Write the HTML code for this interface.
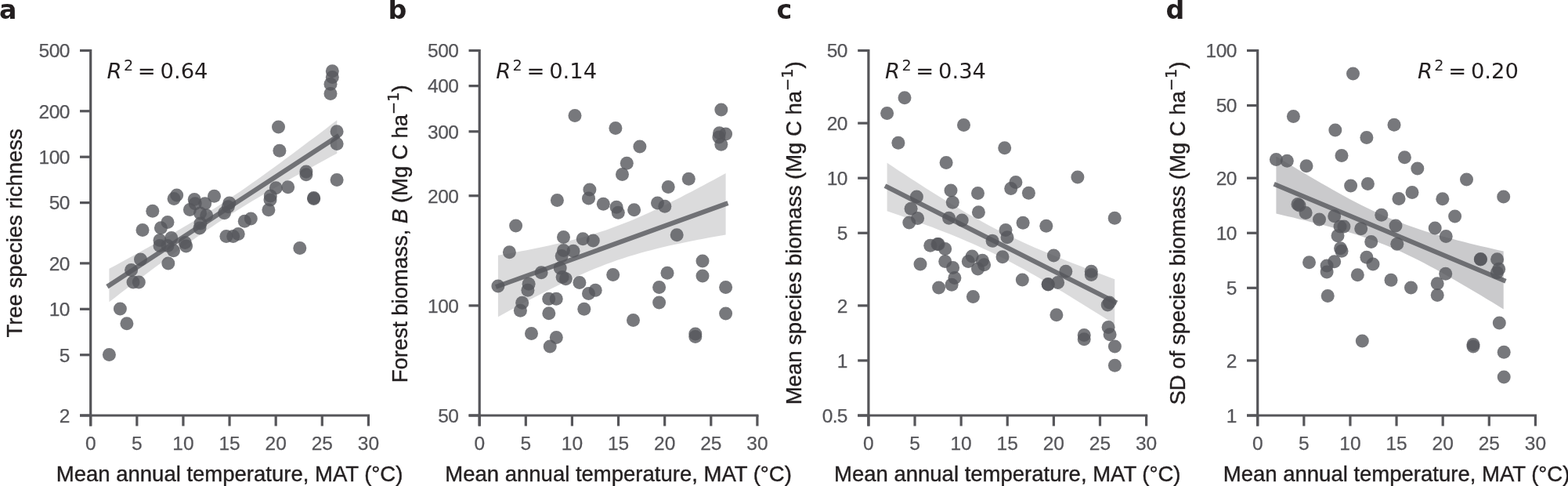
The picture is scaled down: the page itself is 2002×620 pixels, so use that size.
<!DOCTYPE html><html><head><meta charset="utf-8"><title>Figure</title><style>html,body{margin:0;padding:0;background:#fff;overflow:hidden;}svg{display:block;}</style></head><body>
<svg width="2002" height="620" viewBox="0 0 2002 620">
<rect width="2002" height="620" fill="#fff"/>
<path d="M139.4 342.8 L146.7 338.9 L153.9 334.9 L161.2 330.9 L168.5 327.0 L175.8 323.0 L183.0 318.9 L190.3 314.9 L197.6 310.9 L204.9 306.8 L212.1 302.7 L219.4 298.5 L226.7 294.3 L233.9 290.1 L241.2 285.8 L248.5 281.5 L255.8 277.1 L263.0 272.6 L270.3 268.1 L277.6 263.4 L284.9 258.8 L292.1 254.0 L299.4 249.1 L306.7 244.2 L313.9 239.2 L321.2 234.1 L328.5 229.0 L335.8 223.8 L343.0 218.5 L350.3 213.2 L357.6 207.9 L364.8 202.5 L372.1 197.2 L379.4 191.7 L386.7 186.3 L393.9 180.8 L401.2 175.4 L408.5 169.9 L415.8 164.4 L423.0 158.8 L430.3 153.3 L430.3 195.7 L423.0 199.6 L415.8 203.6 L408.5 207.6 L401.2 211.5 L393.9 215.5 L386.7 219.6 L379.4 223.6 L372.1 227.6 L364.8 231.7 L357.6 235.8 L350.3 240.0 L343.0 244.2 L335.8 248.4 L328.5 252.7 L321.2 257.0 L313.9 261.4 L306.7 265.9 L299.4 270.4 L292.1 275.1 L284.9 279.8 L277.6 284.5 L270.3 289.4 L263.0 294.3 L255.8 299.3 L248.5 304.4 L241.2 309.5 L233.9 314.7 L226.7 320.0 L219.4 325.3 L212.1 330.6 L204.9 336.0 L197.6 341.3 L190.3 346.8 L183.0 352.2 L175.8 357.7 L168.5 363.1 L161.2 368.6 L153.9 374.1 L146.7 379.7 L139.4 385.2 Z" fill="#55565b" fill-opacity="0.21"/>
<g fill="#55565b" fill-opacity="0.8"><circle cx="424.3" cy="90.7" r="8.5"/><circle cx="424.3" cy="98.6" r="8.5"/><circle cx="422.0" cy="107.3" r="8.5"/><circle cx="422.0" cy="119.5" r="8.5"/><circle cx="355.5" cy="161.9" r="8.5"/><circle cx="356.9" cy="192.3" r="8.5"/><circle cx="430.1" cy="167.7" r="8.5"/><circle cx="430.1" cy="183.6" r="8.5"/><circle cx="390.9" cy="219.0" r="8.5"/><circle cx="390.9" cy="222.8" r="8.5"/><circle cx="430.1" cy="229.5" r="8.5"/><circle cx="352.3" cy="239.7" r="8.5"/><circle cx="367.7" cy="238.8" r="8.5"/><circle cx="345.3" cy="250.0" r="8.5"/><circle cx="345.0" cy="255.0" r="8.5"/><circle cx="342.9" cy="267.7" r="8.5"/><circle cx="400.6" cy="252.4" r="8.5"/><circle cx="400.6" cy="253.5" r="8.5"/><circle cx="382.8" cy="316.6" r="8.5"/><circle cx="320.3" cy="279.0" r="8.5"/><circle cx="312.3" cy="282.3" r="8.5"/><circle cx="304.2" cy="298.4" r="8.5"/><circle cx="297.7" cy="301.6" r="8.5"/><circle cx="288.9" cy="301.6" r="8.5"/><circle cx="292.9" cy="258.9" r="8.5"/><circle cx="291.3" cy="263.7" r="8.5"/><circle cx="286.5" cy="271.8" r="8.5"/><circle cx="273.5" cy="250.2" r="8.5"/><circle cx="261.7" cy="259.7" r="8.5"/><circle cx="263.7" cy="274.8" r="8.5"/><circle cx="255.5" cy="272.0" r="8.5"/><circle cx="256.0" cy="285.0" r="8.5"/><circle cx="255.0" cy="291.0" r="8.5"/><circle cx="248.2" cy="254.4" r="8.5"/><circle cx="249.2" cy="259.7" r="8.5"/><circle cx="242.4" cy="267.4" r="8.5"/><circle cx="225.7" cy="248.9" r="8.5"/><circle cx="222.1" cy="253.5" r="8.5"/><circle cx="194.8" cy="269.2" r="8.5"/><circle cx="214.0" cy="283.6" r="8.5"/><circle cx="205.4" cy="290.8" r="8.5"/><circle cx="182.0" cy="293.4" r="8.5"/><circle cx="204.0" cy="306.5" r="8.5"/><circle cx="204.0" cy="313.6" r="8.5"/><circle cx="218.8" cy="303.5" r="8.5"/><circle cx="214.0" cy="313.5" r="8.5"/><circle cx="221.5" cy="319.8" r="8.5"/><circle cx="236.3" cy="309.5" r="8.5"/><circle cx="237.6" cy="314.0" r="8.5"/><circle cx="214.8" cy="336.0" r="8.5"/><circle cx="179.5" cy="331.0" r="8.5"/><circle cx="167.6" cy="344.4" r="8.5"/><circle cx="170.0" cy="360.0" r="8.5"/><circle cx="177.3" cy="360.0" r="8.5"/><circle cx="153.4" cy="394.0" r="8.5"/><circle cx="161.9" cy="412.7" r="8.5"/><circle cx="139.4" cy="452.6" r="8.5"/></g>
<path d="M139.4 364.0 L430.3 174.5" stroke="#55565b" stroke-opacity="0.8" stroke-width="6.0" stroke-linecap="square" fill="none"/>
<g stroke="#555559" stroke-width="3.2" fill="none" stroke-linecap="butt"><path d="M115.70 62.90 V543.50 M102.00 530.00 H472.00" /><path d="M115.70 530.00 V543.50"/><path d="M174.82 530.00 V543.50"/><path d="M233.93 530.00 V543.50"/><path d="M293.05 530.00 V543.50"/><path d="M352.17 530.00 V543.50"/><path d="M411.28 530.00 V543.50"/><path d="M470.40 530.00 V543.50"/><path d="M102.00 530.00 H115.70"/><path d="M102.00 452.75 H115.70"/><path d="M102.00 394.31 H115.70"/><path d="M102.00 335.88 H115.70"/><path d="M102.00 258.62 H115.70"/><path d="M102.00 200.19 H115.70"/><path d="M102.00 141.75 H115.70"/><path d="M102.00 64.50 H115.70"/></g>
<g font-family="'Liberation Sans', Arial, Helvetica, sans-serif" font-size="24.5" fill="#555559" stroke="#555559" stroke-width="0.25"><text x="115.70" y="574.1" text-anchor="middle">0</text><text x="174.82" y="574.1" text-anchor="middle">5</text><text x="233.93" y="574.1" text-anchor="middle">10</text><text x="293.05" y="574.1" text-anchor="middle">15</text><text x="352.17" y="574.1" text-anchor="middle">20</text><text x="411.28" y="574.1" text-anchor="middle">25</text><text x="470.40" y="574.1" text-anchor="middle">30</text><text x="88.70" y="538.80" text-anchor="end" letter-spacing="-0.6">2</text><text x="88.70" y="461.55" text-anchor="end" letter-spacing="-0.6">5</text><text x="88.70" y="403.11" text-anchor="end" letter-spacing="-0.6">10</text><text x="88.70" y="344.68" text-anchor="end" letter-spacing="-0.6">20</text><text x="88.70" y="267.42" text-anchor="end" letter-spacing="-0.6">50</text><text x="88.70" y="208.99" text-anchor="end" letter-spacing="-0.6">100</text><text x="88.70" y="150.55" text-anchor="end" letter-spacing="-0.6">200</text><text x="88.70" y="73.30" text-anchor="end" letter-spacing="-0.6">500</text></g>
<text x="293.05" y="614.3" text-anchor="middle" font-family="'Liberation Sans', Arial, Helvetica, sans-serif" font-size="27.5" fill="#231f20" stroke="#231f20" stroke-width="0.4">Mean annual temperature, MAT (°C)</text>
<text transform="translate(28.4,297.4) rotate(-90)" text-anchor="middle" font-family="'Liberation Sans', Arial, Helvetica, sans-serif" font-size="27.5" fill="#231f20" stroke="#231f20" stroke-width="0.4">Tree species richness</text>
<text x="136.6" y="100" font-family="'DejaVu Sans', sans-serif" font-size="27.4" fill="#231f20"><tspan font-style="italic">R</tspan><tspan font-size="19.2" dx="2.3" dy="-10.5">2</tspan><tspan dx="-3" dy="10.5"> =</tspan><tspan dx="-3"> 0.64</tspan></text>
<text x="-1.0" y="24.1" font-family="'DejaVu Sans', sans-serif" font-weight="bold" font-size="33.3" fill="#231f20">a</text>
<path d="M635.9 325.8 L643.2 324.5 L650.4 323.2 L657.7 321.9 L665.0 320.5 L672.2 319.2 L679.5 317.7 L686.8 316.3 L694.0 314.8 L701.3 313.2 L708.6 311.6 L715.8 309.9 L723.1 308.2 L730.4 306.3 L737.6 304.4 L744.9 302.4 L752.2 300.3 L759.4 298.1 L766.7 295.8 L774.0 293.4 L781.2 290.8 L788.5 288.1 L795.8 285.3 L803.1 282.4 L810.3 279.4 L817.6 276.2 L824.9 273.0 L832.1 269.7 L839.4 266.2 L846.7 262.7 L853.9 259.2 L861.2 255.6 L868.5 251.9 L875.7 248.1 L883.0 244.4 L890.3 240.6 L897.5 236.7 L904.8 232.8 L912.1 228.9 L919.3 225.0 L926.6 221.0 L926.6 299.4 L919.3 300.7 L912.1 302.0 L904.8 303.3 L897.5 304.7 L890.3 306.0 L883.0 307.5 L875.7 308.9 L868.5 310.4 L861.2 312.0 L853.9 313.6 L846.7 315.3 L839.4 317.0 L832.1 318.9 L824.9 320.8 L817.6 322.8 L810.3 324.9 L803.1 327.1 L795.8 329.4 L788.5 331.8 L781.2 334.4 L774.0 337.1 L766.7 339.9 L759.4 342.8 L752.2 345.8 L744.9 349.0 L737.6 352.2 L730.4 355.5 L723.1 359.0 L715.8 362.5 L708.6 366.0 L701.3 369.6 L694.0 373.3 L686.8 377.1 L679.5 380.8 L672.2 384.6 L665.0 388.5 L657.7 392.4 L650.4 396.3 L643.2 400.2 L635.9 404.2 Z" fill="#55565b" fill-opacity="0.21"/>
<g fill="#55565b" fill-opacity="0.8"><circle cx="734.0" cy="147.6" r="8.5"/><circle cx="785.9" cy="163.5" r="8.5"/><circle cx="920.8" cy="140.1" r="8.5"/><circle cx="918.5" cy="169.7" r="8.5"/><circle cx="926.6" cy="171.1" r="8.5"/><circle cx="917.9" cy="174.9" r="8.5"/><circle cx="920.8" cy="184.2" r="8.5"/><circle cx="816.9" cy="187.1" r="8.5"/><circle cx="800.3" cy="208.3" r="8.5"/><circle cx="794.5" cy="222.6" r="8.5"/><circle cx="879.3" cy="228.3" r="8.5"/><circle cx="853.2" cy="238.5" r="8.5"/><circle cx="752.9" cy="242.0" r="8.5"/><circle cx="751.5" cy="253.0" r="8.5"/><circle cx="711.4" cy="255.6" r="8.5"/><circle cx="770.3" cy="260.2" r="8.5"/><circle cx="839.5" cy="259.1" r="8.5"/><circle cx="848.8" cy="263.2" r="8.5"/><circle cx="809.6" cy="267.8" r="8.5"/><circle cx="787.1" cy="264.2" r="8.5"/><circle cx="789.3" cy="271.2" r="8.5"/><circle cx="658.6" cy="287.9" r="8.5"/><circle cx="719.5" cy="302.5" r="8.5"/><circle cx="744.2" cy="304.8" r="8.5"/><circle cx="757.3" cy="306.9" r="8.5"/><circle cx="650.4" cy="321.7" r="8.5"/><circle cx="719.5" cy="319.4" r="8.5"/><circle cx="732.0" cy="320.2" r="8.5"/><circle cx="717.2" cy="326.6" r="8.5"/><circle cx="715.2" cy="342.0" r="8.5"/><circle cx="691.1" cy="347.8" r="8.5"/><circle cx="675.1" cy="362.3" r="8.5"/><circle cx="673.9" cy="370.2" r="8.5"/><circle cx="718.1" cy="353.6" r="8.5"/><circle cx="722.4" cy="355.7" r="8.5"/><circle cx="739.9" cy="360.6" r="8.5"/><circle cx="782.7" cy="350.4" r="8.5"/><circle cx="760.2" cy="370.2" r="8.5"/><circle cx="751.5" cy="374.5" r="8.5"/><circle cx="666.7" cy="386.2" r="8.5"/><circle cx="664.4" cy="396.2" r="8.5"/><circle cx="700.7" cy="381.2" r="8.5"/><circle cx="710.2" cy="381.2" r="8.5"/><circle cx="700.8" cy="399.8" r="8.5"/><circle cx="745.8" cy="394.2" r="8.5"/><circle cx="678.5" cy="425.4" r="8.5"/><circle cx="710.3" cy="430.4" r="8.5"/><circle cx="702.2" cy="441.9" r="8.5"/><circle cx="635.9" cy="364.9" r="8.5"/><circle cx="864.2" cy="299.7" r="8.5"/><circle cx="852.0" cy="348.2" r="8.5"/><circle cx="897.0" cy="333.1" r="8.5"/><circle cx="897.0" cy="352.0" r="8.5"/><circle cx="841.6" cy="366.5" r="8.5"/><circle cx="841.6" cy="385.9" r="8.5"/><circle cx="926.6" cy="366.5" r="8.5"/><circle cx="926.6" cy="400.0" r="8.5"/><circle cx="808.5" cy="408.5" r="8.5"/><circle cx="887.8" cy="425.9" r="8.5"/><circle cx="887.8" cy="429.5" r="8.5"/></g>
<path d="M635.9 365.0 L926.6 260.2" stroke="#55565b" stroke-opacity="0.8" stroke-width="6.0" stroke-linecap="square" fill="none"/>
<g stroke="#555559" stroke-width="3.2" fill="none" stroke-linecap="butt"><path d="M612.20 62.90 V543.50 M598.50 530.00 H968.50" /><path d="M612.20 530.00 V543.50"/><path d="M671.32 530.00 V543.50"/><path d="M730.43 530.00 V543.50"/><path d="M789.55 530.00 V543.50"/><path d="M848.67 530.00 V543.50"/><path d="M907.78 530.00 V543.50"/><path d="M966.90 530.00 V543.50"/><path d="M598.50 530.00 H612.20"/><path d="M598.50 389.87 H612.20"/><path d="M598.50 249.74 H612.20"/><path d="M598.50 167.77 H612.20"/><path d="M598.50 109.61 H612.20"/><path d="M598.50 64.50 H612.20"/></g>
<g font-family="'Liberation Sans', Arial, Helvetica, sans-serif" font-size="24.5" fill="#555559" stroke="#555559" stroke-width="0.25"><text x="612.20" y="574.1" text-anchor="middle">0</text><text x="671.32" y="574.1" text-anchor="middle">5</text><text x="730.43" y="574.1" text-anchor="middle">10</text><text x="789.55" y="574.1" text-anchor="middle">15</text><text x="848.67" y="574.1" text-anchor="middle">20</text><text x="907.78" y="574.1" text-anchor="middle">25</text><text x="966.90" y="574.1" text-anchor="middle">30</text><text x="585.20" y="538.80" text-anchor="end" letter-spacing="-0.6">50</text><text x="585.20" y="398.67" text-anchor="end" letter-spacing="-0.6">100</text><text x="585.20" y="258.54" text-anchor="end" letter-spacing="-0.6">200</text><text x="585.20" y="176.57" text-anchor="end" letter-spacing="-0.6">300</text><text x="585.20" y="118.41" text-anchor="end" letter-spacing="-0.6">400</text><text x="585.20" y="73.30" text-anchor="end" letter-spacing="-0.6">500</text></g>
<text x="789.55" y="614.3" text-anchor="middle" font-family="'Liberation Sans', Arial, Helvetica, sans-serif" font-size="27.5" fill="#231f20" stroke="#231f20" stroke-width="0.4">Mean annual temperature, MAT (°C)</text>
<text transform="translate(520.0,298.3) rotate(-90)" text-anchor="middle" font-family="'Liberation Sans', Arial, Helvetica, sans-serif" font-size="27.5" fill="#231f20" stroke="#231f20" stroke-width="0.4">Forest biomass, <tspan font-style="italic">B</tspan> (Mg C ha<tspan font-family="'DejaVu Sans', sans-serif" font-size="19.3" dy="-11">−1</tspan><tspan dy="11">)</tspan></text>
<text x="633.2" y="100" font-family="'DejaVu Sans', sans-serif" font-size="27.4" fill="#231f20"><tspan font-style="italic">R</tspan><tspan font-size="19.2" dx="2.3" dy="-10.5">2</tspan><tspan dx="-3" dy="10.5"> =</tspan><tspan dx="-3"> 0.14</tspan></text>
<text x="495.5" y="24.1" font-family="'DejaVu Sans', sans-serif" font-weight="bold" font-size="33.3" fill="#231f20">b</text>
<path d="M1132.6 207.8 L1139.9 212.6 L1147.1 217.4 L1154.4 222.1 L1161.7 226.9 L1168.9 231.6 L1176.2 236.2 L1183.5 240.9 L1190.7 245.5 L1198.0 250.0 L1205.2 254.5 L1212.5 258.9 L1219.8 263.3 L1227.0 267.6 L1234.3 271.9 L1241.6 276.1 L1248.8 280.1 L1256.1 284.1 L1263.4 288.0 L1270.6 291.8 L1277.9 295.6 L1285.2 299.2 L1292.4 302.7 L1299.7 306.1 L1307.0 309.5 L1314.2 312.7 L1321.5 315.9 L1328.8 319.0 L1336.0 322.1 L1343.3 325.1 L1350.5 328.1 L1357.8 331.0 L1365.1 333.9 L1372.3 336.8 L1379.6 339.6 L1386.9 342.4 L1394.1 345.2 L1401.4 348.0 L1408.7 350.7 L1415.9 353.5 L1423.2 356.2 L1423.2 413.8 L1415.9 409.2 L1408.7 404.6 L1401.4 400.1 L1394.1 395.5 L1386.9 391.0 L1379.6 386.4 L1372.3 381.9 L1365.1 377.5 L1357.8 373.0 L1350.5 368.7 L1343.3 364.3 L1336.0 360.0 L1328.8 355.7 L1321.5 351.5 L1314.2 347.4 L1307.0 343.3 L1299.7 339.4 L1292.4 335.5 L1285.2 331.7 L1277.9 327.9 L1270.6 324.3 L1263.4 320.8 L1256.1 317.4 L1248.8 314.1 L1241.6 310.8 L1234.3 307.7 L1227.0 304.6 L1219.8 301.6 L1212.5 298.6 L1205.2 295.7 L1198.0 292.9 L1190.7 290.1 L1183.5 287.4 L1176.2 284.7 L1168.9 282.0 L1161.7 279.4 L1154.4 276.8 L1147.1 274.3 L1139.9 271.7 L1132.6 269.2 Z" fill="#55565b" fill-opacity="0.21"/>
<g fill="#55565b" fill-opacity="0.8"><circle cx="1155.0" cy="124.7" r="8.5"/><circle cx="1132.6" cy="144.4" r="8.5"/><circle cx="1146.9" cy="182.2" r="8.5"/><circle cx="1230.5" cy="159.5" r="8.5"/><circle cx="1282.7" cy="188.8" r="8.5"/><circle cx="1208.1" cy="207.4" r="8.5"/><circle cx="1290.7" cy="240.4" r="8.5"/><circle cx="1296.9" cy="232.6" r="8.5"/><circle cx="1313.4" cy="246.2" r="8.5"/><circle cx="1375.9" cy="225.9" r="8.5"/><circle cx="1214.0" cy="242.9" r="8.5"/><circle cx="1248.5" cy="246.6" r="8.5"/><circle cx="1170.4" cy="251.0" r="8.5"/><circle cx="1216.3" cy="258.2" r="8.5"/><circle cx="1163.1" cy="266.3" r="8.5"/><circle cx="1249.4" cy="270.8" r="8.5"/><circle cx="1171.6" cy="278.5" r="8.5"/><circle cx="1160.8" cy="284.0" r="8.5"/><circle cx="1211.6" cy="278.2" r="8.5"/><circle cx="1228.2" cy="281.1" r="8.5"/><circle cx="1284.0" cy="293.4" r="8.5"/><circle cx="1286.0" cy="302.8" r="8.5"/><circle cx="1267.1" cy="307.2" r="8.5"/><circle cx="1280.0" cy="327.8" r="8.5"/><circle cx="1187.8" cy="313.3" r="8.5"/><circle cx="1197.0" cy="311.5" r="8.5"/><circle cx="1198.2" cy="311.6" r="8.5"/><circle cx="1206.7" cy="317.4" r="8.5"/><circle cx="1175.0" cy="337.1" r="8.5"/><circle cx="1206.7" cy="333.6" r="8.5"/><circle cx="1216.6" cy="341.5" r="8.5"/><circle cx="1218.9" cy="354.5" r="8.5"/><circle cx="1215.1" cy="363.2" r="8.5"/><circle cx="1198.6" cy="367.0" r="8.5"/><circle cx="1241.2" cy="327.0" r="8.5"/><circle cx="1236.3" cy="333.6" r="8.5"/><circle cx="1254.3" cy="332.2" r="8.5"/><circle cx="1256.6" cy="337.7" r="8.5"/><circle cx="1248.5" cy="342.9" r="8.5"/><circle cx="1242.4" cy="378.6" r="8.5"/><circle cx="1306.1" cy="284.2" r="8.5"/><circle cx="1335.8" cy="288.2" r="8.5"/><circle cx="1423.2" cy="278.2" r="8.5"/><circle cx="1345.4" cy="325.9" r="8.5"/><circle cx="1360.8" cy="346.2" r="8.5"/><circle cx="1350.6" cy="360.5" r="8.5"/><circle cx="1338.1" cy="362.5" r="8.5"/><circle cx="1338.3" cy="363.0" r="8.5"/><circle cx="1305.3" cy="357.0" r="8.5"/><circle cx="1393.3" cy="346.2" r="8.5"/><circle cx="1393.3" cy="350.6" r="8.5"/><circle cx="1416.5" cy="386.0" r="8.5"/><circle cx="1414.2" cy="389.0" r="8.5"/><circle cx="1348.9" cy="401.8" r="8.5"/><circle cx="1384.2" cy="427.6" r="8.5"/><circle cx="1384.2" cy="432.8" r="8.5"/><circle cx="1415.1" cy="417.5" r="8.5"/><circle cx="1417.1" cy="426.7" r="8.5"/><circle cx="1423.4" cy="442.0" r="8.5"/><circle cx="1423.4" cy="466.2" r="8.5"/></g>
<path d="M1132.6 238.5 L1423.2 385.0" stroke="#55565b" stroke-opacity="0.8" stroke-width="6.0" stroke-linecap="square" fill="none"/>
<g stroke="#555559" stroke-width="3.2" fill="none" stroke-linecap="butt"><path d="M1108.90 62.90 V543.50 M1095.20 530.00 H1465.20" /><path d="M1108.90 530.00 V543.50"/><path d="M1168.02 530.00 V543.50"/><path d="M1227.13 530.00 V543.50"/><path d="M1286.25 530.00 V543.50"/><path d="M1345.37 530.00 V543.50"/><path d="M1404.48 530.00 V543.50"/><path d="M1463.60 530.00 V543.50"/><path d="M1095.20 530.00 H1108.90"/><path d="M1095.20 459.94 H1108.90"/><path d="M1095.20 389.87 H1108.90"/><path d="M1095.20 297.25 H1108.90"/><path d="M1095.20 227.19 H1108.90"/><path d="M1095.20 157.12 H1108.90"/><path d="M1095.20 64.50 H1108.90"/></g>
<g font-family="'Liberation Sans', Arial, Helvetica, sans-serif" font-size="24.5" fill="#555559" stroke="#555559" stroke-width="0.25"><text x="1108.90" y="574.1" text-anchor="middle">0</text><text x="1168.02" y="574.1" text-anchor="middle">5</text><text x="1227.13" y="574.1" text-anchor="middle">10</text><text x="1286.25" y="574.1" text-anchor="middle">15</text><text x="1345.37" y="574.1" text-anchor="middle">20</text><text x="1404.48" y="574.1" text-anchor="middle">25</text><text x="1463.60" y="574.1" text-anchor="middle">30</text><text x="1081.90" y="538.80" text-anchor="end" letter-spacing="-0.6">0.5</text><text x="1081.90" y="468.74" text-anchor="end" letter-spacing="-0.6">1</text><text x="1081.90" y="398.67" text-anchor="end" letter-spacing="-0.6">2</text><text x="1081.90" y="306.05" text-anchor="end" letter-spacing="-0.6">5</text><text x="1081.90" y="235.99" text-anchor="end" letter-spacing="-0.6">10</text><text x="1081.90" y="165.92" text-anchor="end" letter-spacing="-0.6">20</text><text x="1081.90" y="73.30" text-anchor="end" letter-spacing="-0.6">50</text></g>
<text x="1286.25" y="614.3" text-anchor="middle" font-family="'Liberation Sans', Arial, Helvetica, sans-serif" font-size="27.5" fill="#231f20" stroke="#231f20" stroke-width="0.4">Mean annual temperature, MAT (°C)</text>
<text transform="translate(1023.3,297.3) rotate(-90)" text-anchor="middle" font-family="'Liberation Sans', Arial, Helvetica, sans-serif" font-size="27.5" fill="#231f20" stroke="#231f20" stroke-width="0.4">Mean species biomass (Mg C ha<tspan font-family="'DejaVu Sans', sans-serif" font-size="19.3" dy="-11">−1</tspan><tspan dy="11">)</tspan></text>
<text x="1130.1000000000001" y="100" font-family="'DejaVu Sans', sans-serif" font-size="27.4" fill="#231f20"><tspan font-style="italic">R</tspan><tspan font-size="19.2" dx="2.3" dy="-10.5">2</tspan><tspan dx="-3" dy="10.5"> =</tspan><tspan dx="-3"> 0.34</tspan></text>
<text x="991.5" y="24.1" font-family="'DejaVu Sans', sans-serif" font-weight="bold" font-size="33.3" fill="#231f20">c</text>
<path d="M1629.4 199.5 L1636.7 203.9 L1643.9 208.3 L1651.2 212.6 L1658.4 216.9 L1665.7 221.2 L1672.9 225.5 L1680.2 229.8 L1687.5 234.0 L1694.7 238.1 L1702.0 242.2 L1709.2 246.3 L1716.5 250.3 L1723.7 254.2 L1731.0 258.0 L1738.3 261.7 L1745.5 265.3 L1752.8 268.8 L1760.0 272.2 L1767.3 275.4 L1774.6 278.6 L1781.8 281.5 L1789.1 284.3 L1796.3 287.0 L1803.6 289.6 L1810.8 292.1 L1818.1 294.4 L1825.4 296.7 L1832.6 298.8 L1839.9 300.9 L1847.1 302.9 L1854.4 304.8 L1861.6 306.7 L1868.9 308.6 L1876.2 310.4 L1883.4 312.2 L1890.7 313.9 L1897.9 315.6 L1905.2 317.3 L1912.4 319.0 L1919.7 320.6 L1919.7 394.4 L1912.4 390.0 L1905.2 385.6 L1897.9 381.2 L1890.7 376.8 L1883.4 372.5 L1876.2 368.2 L1868.9 363.9 L1861.6 359.7 L1854.4 355.5 L1847.1 351.4 L1839.9 347.3 L1832.6 343.3 L1825.4 339.4 L1818.1 335.5 L1810.8 331.8 L1803.6 328.2 L1796.3 324.7 L1789.1 321.3 L1781.8 318.1 L1774.6 314.9 L1767.3 312.0 L1760.0 309.2 L1752.8 306.5 L1745.5 303.9 L1738.3 301.4 L1731.0 299.1 L1723.7 296.8 L1716.5 294.6 L1709.2 292.6 L1702.0 290.5 L1694.7 288.6 L1687.5 286.6 L1680.2 284.8 L1672.9 282.9 L1665.7 281.1 L1658.4 279.4 L1651.2 277.6 L1643.9 275.9 L1636.7 274.2 L1629.4 272.5 Z" fill="#55565b" fill-opacity="0.315"/>
<g fill="#55565b" fill-opacity="0.8"><circle cx="1727.5" cy="94.1" r="8.5"/><circle cx="1651.4" cy="148.4" r="8.5"/><circle cx="1704.8" cy="166.1" r="8.5"/><circle cx="1744.9" cy="175.4" r="8.5"/><circle cx="1780.0" cy="159.2" r="8.5"/><circle cx="1629.4" cy="203.6" r="8.5"/><circle cx="1643.3" cy="205.3" r="8.5"/><circle cx="1668.0" cy="211.7" r="8.5"/><circle cx="1713.0" cy="198.6" r="8.5"/><circle cx="1793.4" cy="200.7" r="8.5"/><circle cx="1809.8" cy="215.1" r="8.5"/><circle cx="1872.5" cy="229.1" r="8.5"/><circle cx="1803.0" cy="245.5" r="8.5"/><circle cx="1786.0" cy="253.6" r="8.5"/><circle cx="1841.8" cy="253.8" r="8.5"/><circle cx="1919.7" cy="250.9" r="8.5"/><circle cx="1857.6" cy="275.9" r="8.5"/><circle cx="1832.2" cy="291.1" r="8.5"/><circle cx="1846.2" cy="301.5" r="8.5"/><circle cx="1782.0" cy="288.0" r="8.5"/><circle cx="1783.8" cy="311.3" r="8.5"/><circle cx="1890.4" cy="330.5" r="8.5"/><circle cx="1890.4" cy="331.1" r="8.5"/><circle cx="1911.6" cy="330.8" r="8.5"/><circle cx="1913.7" cy="343.3" r="8.5"/><circle cx="1911.3" cy="347.7" r="8.5"/><circle cx="1845.7" cy="349.2" r="8.5"/><circle cx="1835.2" cy="361.8" r="8.5"/><circle cx="1835.2" cy="376.4" r="8.5"/><circle cx="1801.5" cy="367.1" r="8.5"/><circle cx="1776.0" cy="357.3" r="8.5"/><circle cx="1914.3" cy="412.0" r="8.5"/><circle cx="1881.0" cy="439.4" r="8.5"/><circle cx="1881.0" cy="441.9" r="8.5"/><circle cx="1920.2" cy="449.2" r="8.5"/><circle cx="1920.2" cy="481.0" r="8.5"/><circle cx="1724.6" cy="236.9" r="8.5"/><circle cx="1746.4" cy="234.6" r="8.5"/><circle cx="1657.0" cy="260.5" r="8.5"/><circle cx="1659.0" cy="262.0" r="8.5"/><circle cx="1667.1" cy="271.4" r="8.5"/><circle cx="1684.5" cy="280.1" r="8.5"/><circle cx="1703.7" cy="275.7" r="8.5"/><circle cx="1711.0" cy="289.1" r="8.5"/><circle cx="1715.9" cy="289.1" r="8.5"/><circle cx="1737.7" cy="291.7" r="8.5"/><circle cx="1763.8" cy="274.3" r="8.5"/><circle cx="1708.0" cy="300.7" r="8.5"/><circle cx="1750.7" cy="308.6" r="8.5"/><circle cx="1711.5" cy="316.7" r="8.5"/><circle cx="1713.0" cy="320.2" r="8.5"/><circle cx="1671.5" cy="334.7" r="8.5"/><circle cx="1703.7" cy="333.8" r="8.5"/><circle cx="1694.1" cy="339.0" r="8.5"/><circle cx="1694.1" cy="346.9" r="8.5"/><circle cx="1744.9" cy="328.3" r="8.5"/><circle cx="1753.0" cy="337.0" r="8.5"/><circle cx="1733.3" cy="350.7" r="8.5"/><circle cx="1695.2" cy="377.5" r="8.5"/><circle cx="1739.3" cy="435.0" r="8.5"/></g>
<path d="M1629.4 236.0 L1919.7 357.5" stroke="#55565b" stroke-opacity="0.8" stroke-width="6.0" stroke-linecap="square" fill="none"/>
<g stroke="#555559" stroke-width="3.2" fill="none" stroke-linecap="butt"><path d="M1605.70 62.90 V543.50 M1592.00 530.00 H1962.00" /><path d="M1605.70 530.00 V543.50"/><path d="M1664.82 530.00 V543.50"/><path d="M1723.93 530.00 V543.50"/><path d="M1783.05 530.00 V543.50"/><path d="M1842.17 530.00 V543.50"/><path d="M1901.28 530.00 V543.50"/><path d="M1960.40 530.00 V543.50"/><path d="M1592.00 530.00 H1605.70"/><path d="M1592.00 459.94 H1605.70"/><path d="M1592.00 367.31 H1605.70"/><path d="M1592.00 297.25 H1605.70"/><path d="M1592.00 227.19 H1605.70"/><path d="M1592.00 134.56 H1605.70"/><path d="M1592.00 64.50 H1605.70"/></g>
<g font-family="'Liberation Sans', Arial, Helvetica, sans-serif" font-size="24.5" fill="#555559" stroke="#555559" stroke-width="0.25"><text x="1605.70" y="574.1" text-anchor="middle">0</text><text x="1664.82" y="574.1" text-anchor="middle">5</text><text x="1723.93" y="574.1" text-anchor="middle">10</text><text x="1783.05" y="574.1" text-anchor="middle">15</text><text x="1842.17" y="574.1" text-anchor="middle">20</text><text x="1901.28" y="574.1" text-anchor="middle">25</text><text x="1960.40" y="574.1" text-anchor="middle">30</text><text x="1578.70" y="538.80" text-anchor="end" letter-spacing="-0.6">1</text><text x="1578.70" y="468.74" text-anchor="end" letter-spacing="-0.6">2</text><text x="1578.70" y="376.11" text-anchor="end" letter-spacing="-0.6">5</text><text x="1578.70" y="306.05" text-anchor="end" letter-spacing="-0.6">10</text><text x="1578.70" y="235.99" text-anchor="end" letter-spacing="-0.6">20</text><text x="1578.70" y="143.36" text-anchor="end" letter-spacing="-0.6">50</text><text x="1578.70" y="73.30" text-anchor="end" letter-spacing="-0.6">100</text></g>
<text x="1783.05" y="614.3" text-anchor="middle" font-family="'Liberation Sans', Arial, Helvetica, sans-serif" font-size="27.5" fill="#231f20" stroke="#231f20" stroke-width="0.4">Mean annual temperature, MAT (°C)</text>
<text transform="translate(1513.3,297.5) rotate(-90)" text-anchor="middle" font-family="'Liberation Sans', Arial, Helvetica, sans-serif" font-size="27.5" fill="#231f20" stroke="#231f20" stroke-width="0.4">SD of species biomass (Mg C ha<tspan font-family="'DejaVu Sans', sans-serif" font-size="19.3" dy="-11">−1</tspan><tspan dy="11">)</tspan></text>
<text x="1810.0" y="100" font-family="'DejaVu Sans', sans-serif" font-size="27.4" fill="#231f20"><tspan font-style="italic">R</tspan><tspan font-size="19.2" dx="2.3" dy="-10.5">2</tspan><tspan dx="-3" dy="10.5"> =</tspan><tspan dx="-3"> 0.20</tspan></text>
<text x="1488.5" y="24.1" font-family="'DejaVu Sans', sans-serif" font-weight="bold" font-size="33.3" fill="#231f20">d</text>
</svg></body></html>
